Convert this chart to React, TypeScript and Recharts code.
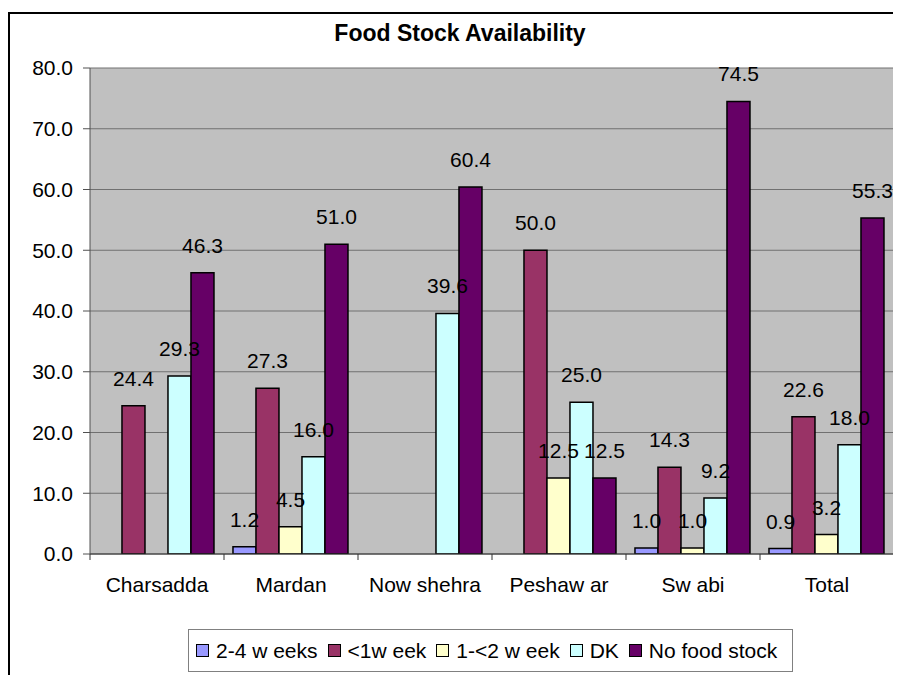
import { BarChart, Bar, XAxis, YAxis, CartesianGrid, LabelList, Legend } from 'recharts';

const FONT = '"Liberation Sans", Arial, sans-serif';

const categories = ['Charsadda', 'Mardan', 'Now shehra', 'Peshaw ar', 'Sw abi', 'Total'];
const twoToFourWeeks = [null, 1.2, null, null, 1.0, 0.9];
const underOneWeek = [24.4, 27.3, null, 50.0, 14.3, 22.6];
const oneToTwoWeeks = [null, 4.5, null, 12.5, 1.0, 3.2];
const dontKnow = [29.3, 16.0, 39.6, 25.0, 9.2, 18.0];
const noFoodStock = [46.3, 51.0, 60.4, 12.5, 74.5, 55.3];
const yTicks = [0, 10, 20, 30, 40, 50, 60, 70, 80];

const series = [
  { key: 'w24', name: '2-4 w eeks', color: '#9999FF', values: twoToFourWeeks },
  { key: 'w1', name: '<1w eek', color: '#993366', values: underOneWeek },
  { key: 'w12', name: '1-<2 w eek', color: '#FFFFCC', values: oneToTwoWeeks },
  { key: 'dk', name: 'DK', color: '#CCFFFF', values: dontKnow },
  { key: 'none', name: 'No food stock', color: '#660066', values: noFoodStock },
];

const data = categories.map((name, i) => {
  const row: Record<string, string | number | null> = { name };
  series.forEach((s) => {
    row[s.key] = s.values[i];
  });
  return row;
});

const fmt = (v: any) => (v == null ? '' : Number(v).toFixed(1));

// category ticks sit between groups, like Excel
const XTick = (props: any) => {
  const { x, y, payload, index, visibleTicksCount } = props;
  const half = payload?.offset ?? 67;
  return (
    <g>
      <line x1={x - half} x2={x - half} y1={y} y2={y + 6} stroke="#333" />
      {index === visibleTicksCount - 1 && (
        <line x1={x + half} x2={x + half} y1={y} y2={y + 6} stroke="#333" />
      )}
      <text x={x} y={y + 23} dy="0.71em" textAnchor="middle" fill="#000" fontSize={21} fontFamily={FONT}>
        {payload.value}
      </text>
    </g>
  );
};

const LegendBox = () => (
  <div
    style={{
      display: 'flex',
      alignItems: 'center',
      height: 43,
      boxSizing: 'border-box',
      border: '1px solid #808080',
      background: '#fff',
      paddingLeft: 7,
      fontFamily: FONT,
      fontSize: 21,
      color: '#000',
      whiteSpace: 'nowrap',
    }}
  >
    {series.map((s) => (
      <div key={s.key} style={{ display: 'flex', alignItems: 'center', marginRight: 10 }}>
        <span
          style={{
            display: 'inline-block',
            width: 11,
            height: 11,
            background: s.color,
            border: '1px solid #000',
            marginRight: 7,
          }}
        />
        <span>{s.name}</span>
      </div>
    ))}
  </div>
);

export default function App() {
  return (
    <div
      style={{
        position: 'relative',
        marginTop: 4,
        width: 893,
        height: 663,
        boxSizing: 'border-box',
        borderTop: '2px solid #000',
        borderLeft: '2px solid #000',
        background: '#fff',
      }}
    >
      <style>{'body{overflow:hidden}'}</style>
      <div
        style={{
          position: 'absolute',
          top: 8,
          left: 0,
          width: 900,
          textAlign: 'center',
          fontFamily: FONT,
          fontWeight: 'bold',
          fontSize: 23,
          lineHeight: '23px',
          color: '#000',
        }}
      >
        Food Stock Availability
      </div>
      <BarChart
        width={891}
        height={661}
        data={data}
        margin={{ top: 54, right: 7, bottom: 61, left: 10 }}
        barCategoryGap="6.7%"
        barGap={0}
      >
        <CartesianGrid vertical={false} stroke="#707070" fill="#C0C0C0" fillOpacity={1} />
        <XAxis
          dataKey="name"
          height={60}
          axisLine={{ stroke: '#333' }}
          tickLine={false}
          tickSize={0}
          tickMargin={0}
          tick={<XTick />}
          interval={0}
        />
        <YAxis
          width={70}
          domain={[0, 80]}
          ticks={yTicks}
          tickFormatter={fmt}
          axisLine={{ stroke: '#505050' }}
          tickLine={{ stroke: '#505050' }}
          tickSize={7}
          tickMargin={10}
          tick={{ fill: '#000', fontSize: 21, fontFamily: FONT }}
          allowDataOverflow
        />
        <YAxis
          yAxisId="frame"
          orientation="right"
          width={0}
          domain={[0, 80]}
          tick={false}
          tickLine={false}
          axisLine={{ stroke: '#808080' }}
        />
        <Legend
          layout="horizontal"
          verticalAlign="middle"
          align="center"
          content={<LegendBox />}
          wrapperStyle={{ top: 615, left: 178, width: 605 }}
        />
        {series.map((s) => (
          <Bar
            key={s.key}
            dataKey={s.key}
            name={s.name}
            fill={s.color}
            stroke="#000"
            strokeWidth={1.5}
            isAnimationActive={false}
          >
            <LabelList
              dataKey={s.key}
              position="top"
              offset={20}
              formatter={fmt}
              fill="#000"
              fontSize={21}
              fontFamily={FONT}
            />
          </Bar>
        ))}
      </BarChart>
    </div>
  );
}
